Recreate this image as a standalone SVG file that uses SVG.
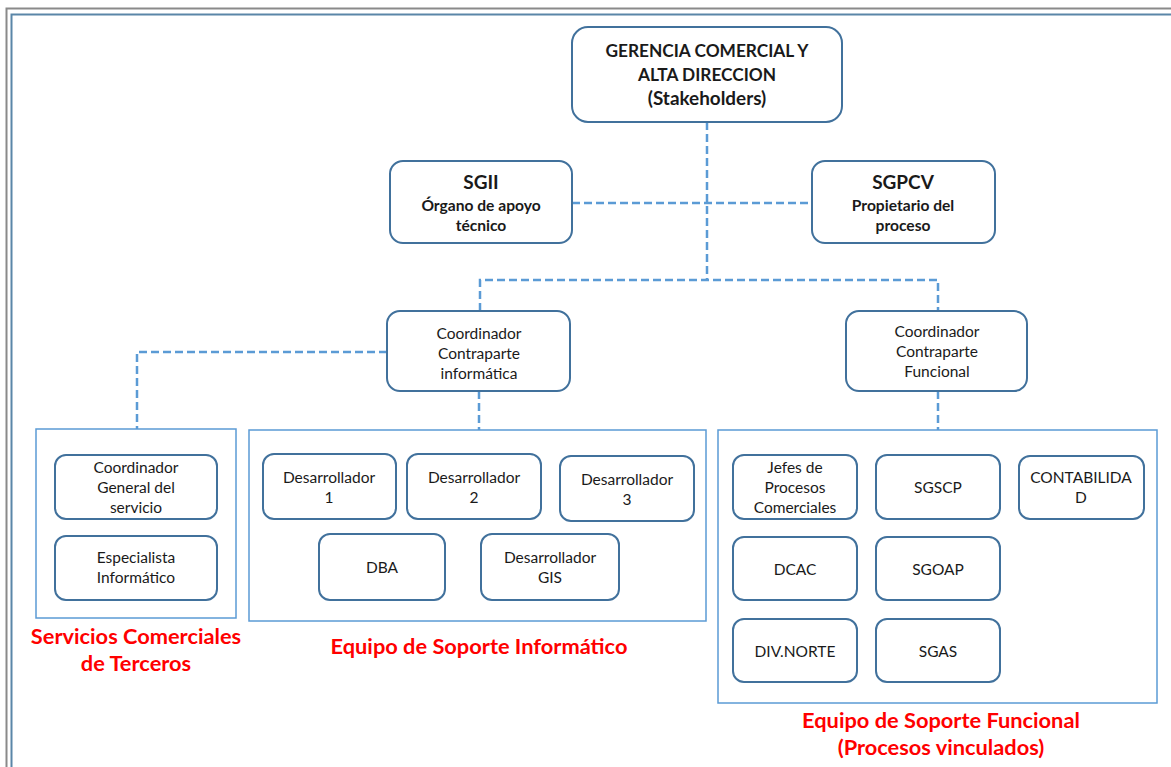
<svg xmlns="http://www.w3.org/2000/svg" width="1171" height="767" viewBox="0 0 1171 767">
<style>
.node{fill:#fff;stroke:#41719c;stroke-width:2}
.grp{fill:none;stroke:#5b9bd5;stroke-width:1.5}
.con{fill:none;stroke:#5b9bd5;stroke-width:2.5;stroke-dasharray:8 4}
text{font-family:Lato,"Open Sans","Liberation Sans",sans-serif;fill:#1a1a1a;text-anchor:middle}
.b{font-weight:bold}
.t{font-weight:bold;font-size:17.3px}
.s{font-weight:bold;font-size:15.6px}
.r{font-size:15.5px}
.lbl{font-weight:bold;fill:#ff0000;font-size:21.8px}
</style>
<rect x="0" y="0" width="1171" height="767" fill="#fff"/>
<rect x="6.5" y="8.5" width="1180" height="780" fill="none" stroke="#8a8a8a" stroke-width="2"/>
<rect x="11.5" y="14.5" width="1180" height="780" fill="none" stroke="#5a86a8" stroke-width="2"/>
<g id="connectors">
<path class="con" d="M707 122 V280"/>
<path class="con" d="M572 203 H812"/>
<path class="con" d="M480 311 V280 H938 V311"/>
<path class="con" d="M387 352 H137 V429"/>
<path class="con" d="M479 391 V430"/>
<path class="con" d="M938 391 V430"/>
</g>
<g id="group-terceros"><rect class="grp" x="36" y="429" width="200" height="189"/>
<text class="lbl" x="136" y="644">Servicios Comerciales</text><text class="lbl" x="136" y="671">de Terceros</text></g>
<g id="group-informatico"><rect class="grp" x="249" y="430" width="457" height="191"/>
<text class="lbl" x="479" y="654">Equipo de Soporte Informático</text></g>
<g id="group-funcional"><rect class="grp" x="718" y="430" width="439" height="273"/>
<text class="lbl" x="941" y="728">Equipo de Soporte Funcional</text><text class="lbl" x="941" y="755">(Procesos vinculados)</text></g>
<g id="gerencia"><rect class="node" x="572" y="27" width="270" height="95" rx="16"/>
<text class="t" x="707" y="57">GERENCIA COMERCIAL Y</text>
<text class="t" x="707" y="81">ALTA DIRECCION</text>
<text class="t" x="707" y="105" style="font-size:18.9px">(Stakeholders)</text></g>
<g id="sgii"><rect class="node" x="390" y="161" width="182" height="82" rx="13"/>
<text class="b" x="481" y="189" font-size="19">SGII</text>
<text class="s" x="481" y="211">Órgano de apoyo</text>
<text class="s" x="481" y="231">técnico</text></g>
<g id="sgpcv"><rect class="node" x="812" y="161" width="183" height="82" rx="13"/>
<text class="b" x="903" y="189" font-size="19">SGPCV</text>
<text class="s" x="903" y="211">Propietario del</text>
<text class="s" x="903" y="231">proceso</text></g>
<g id="coord-informatica"><rect class="node" x="387" y="311" width="183" height="80" rx="13"/>
<text class="r" x="479" y="339">Coordinador</text><text class="r" x="479" y="359">Contraparte</text><text class="r" x="479" y="379">informática</text></g>
<g id="coord-funcional"><rect class="node" x="846" y="311" width="181" height="80" rx="13"/>
<text class="r" x="937" y="337">Coordinador</text><text class="r" x="937" y="357">Contraparte</text><text class="r" x="937" y="377">Funcional</text></g>
<g id="coord-general"><rect class="node" x="55" y="455" width="162" height="64" rx="11"/>
<text class="r" x="136" y="473">Coordinador</text><text class="r" x="136" y="493">General del</text><text class="r" x="136" y="513">servicio</text></g>
<g id="especialista"><rect class="node" x="55" y="536" width="162" height="64" rx="11"/>
<text class="r" x="136" y="563">Especialista</text><text class="r" x="136" y="583">Informático</text></g>
<g id="des1"><rect class="node" x="263" y="454" width="133" height="65" rx="11"/>
<text class="r" x="329" y="483">Desarrollador</text><text class="r" x="329" y="503">1</text></g>
<g id="des2"><rect class="node" x="407" y="454" width="134" height="65" rx="11"/>
<text class="r" x="474" y="483">Desarrollador</text><text class="r" x="474" y="503">2</text></g>
<g id="des3"><rect class="node" x="560" y="456" width="134" height="65" rx="11"/>
<text class="r" x="627" y="485">Desarrollador</text><text class="r" x="627" y="505">3</text></g>
<g id="dba"><rect class="node" x="319" y="534" width="126" height="66" rx="11"/>
<text class="r" x="382" y="573">DBA</text></g>
<g id="des-gis"><rect class="node" x="481" y="534" width="138" height="66" rx="11"/>
<text class="r" x="550" y="563">Desarrollador</text><text class="r" x="550" y="583">GIS</text></g>
<g id="jefes"><rect class="node" x="733" y="455" width="124" height="64" rx="11"/>
<text class="r" x="795" y="473">Jefes de</text><text class="r" x="795" y="493">Procesos</text><text class="r" x="795" y="513">Comerciales</text></g>
<g id="sgscp"><rect class="node" x="876" y="455" width="124" height="64" rx="11"/>
<text class="r" x="938" y="493">SGSCP</text></g>
<g id="contabilidad"><rect class="node" x="1019" y="456" width="125" height="63" rx="11"/>
<text class="r" x="1081" y="483">CONTABILIDA</text><text class="r" x="1081" y="503">D</text></g>
<g id="dcac"><rect class="node" x="733" y="537" width="124" height="63" rx="11"/>
<text class="r" x="795" y="575">DCAC</text></g>
<g id="sgoap"><rect class="node" x="876" y="537" width="124" height="63" rx="11"/>
<text class="r" x="938" y="575">SGOAP</text></g>
<g id="divnorte"><rect class="node" x="733" y="619" width="124" height="63" rx="11"/>
<text class="r" x="795" y="657">DIV.NORTE</text></g>
<g id="sgas"><rect class="node" x="876" y="619" width="124" height="63" rx="11"/>
<text class="r" x="938" y="657">SGAS</text></g>
</svg>
